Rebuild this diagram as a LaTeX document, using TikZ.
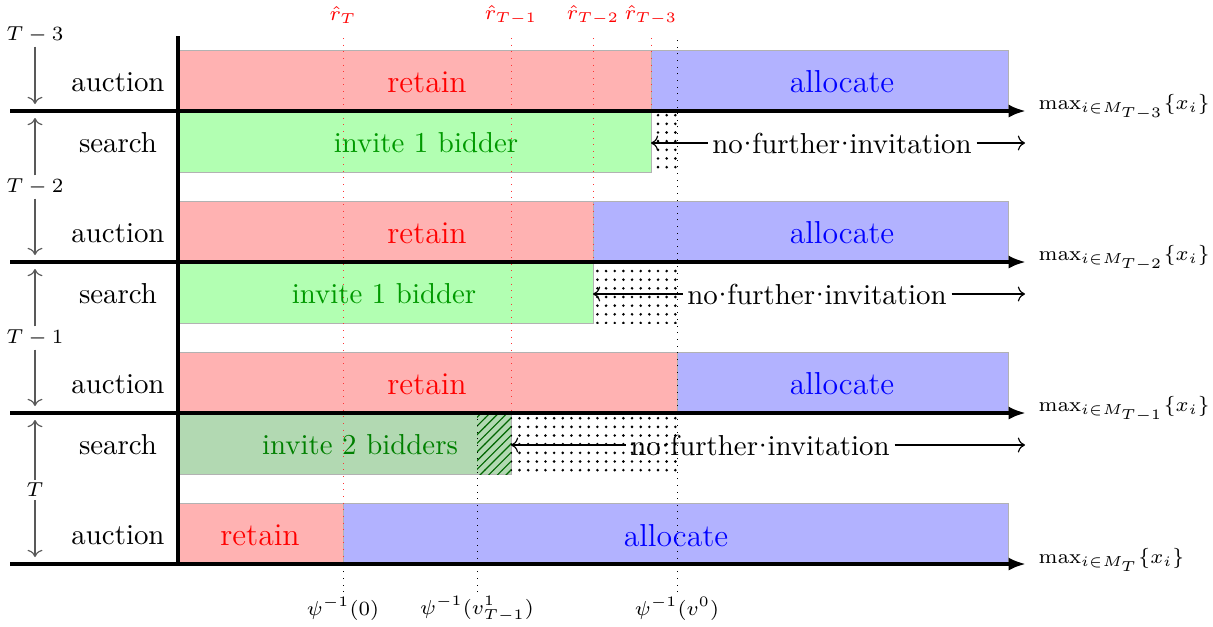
\documentclass[tikz,border=0pt]{standalone}
\usetikzlibrary{patterns,arrows.meta}
\newcommand{\wdot}{\hbox to 0.333em{\hss\textperiodcentered\hss}}
\begin{document}
\begin{tikzpicture}[x=0.3465pt,y=-0.3465pt,
  bar/.style={draw=gray!60,line width=0.3pt},
  retainbar/.style={bar,fill=red!30},
  allocbar/.style={bar,fill=blue!30},
  invitebar/.style={bar,fill=green!30},
  invitetwobar/.style={bar,fill=green!50!black!30},
  dotsbox/.style={pattern=dots},
  axisline/.style={line width=1.3pt,-{Latex[length=6pt,width=4.5pt]}},
  small lab/.style={font=\fontsize{7.2}{8.5}\selectfont},
  psi lab/.style={font=\fontsize{7.2}{8.5}\selectfont,inner sep=0.5pt},
  max lab/.style={font=\fontsize{6.7}{8}\selectfont,inner sep=0pt,anchor=west},
  rlab/.style={font=\fontsize{6.9}{8}\selectfont,text=red},
  big lab/.style={font=\fontsize{11}{13}\selectfont},
  rline/.style={red!80,dotted,line width=0.3pt},
  pline/.style={black,dotted,line width=0.3pt},
  period/.style={gray!70!black,->,line width=0.4pt},
  nfi/.style={inner sep=1.5pt},
  nfiarrow/.style={line width=0.4pt}]
\useasboundingbox (0,0) rectangle (1213,626);

% ---- bars: period T-3 (auction) ----
\path[retainbar] (178,50) rectangle (651,111);
\path[allocbar] (651,50) rectangle (1008,111);
% search T-2
\path[invitebar] (178,111) rectangle (651,172);
\path[dotsbox] (651,111) rectangle (677,172);
% auction T-2
\path[retainbar] (178,201) rectangle (593,262);
\path[allocbar] (593,201) rectangle (1008,262);
% search T-1
\path[invitebar] (178,262) rectangle (593,323);
\path[dotsbox] (593,262) rectangle (677,323);
% auction T-1
\path[retainbar] (178,352) rectangle (677,413);
\path[allocbar] (677,352) rectangle (1008,413);
% search T
\path[invitetwobar] (178,413) rectangle (511,474);
\path[pattern=north east lines,pattern color=green!40!black] (477,413) rectangle (511,474);
\path[dotsbox] (511,413) rectangle (677,474);
% auction T
\path[retainbar] (178,503) rectangle (343,564);
\path[allocbar] (343,503) rectangle (1008,564);

% ---- vertical guide lines ----
\node[rlab] (rT)  at (343,15) {$\hat r_T$};
\node[rlab] (rT1) at (511,15) {$\hat r_{T-1}$};
\node[rlab] (rT2) at (593,15) {$\hat r_{T-2}$};
\node[rlab] (rT3) at (651,15) {$\hat r_{T-3}$};
\coordinate (rTb)  at (343,564);
\coordinate (rT1b) at (511,413);
\coordinate (rT2b) at (593,262);
\coordinate (rT3b) at (651,111);
\draw[rline] (343,38) -- (rTb);
\draw[rline] (511,38) -- (rT1b);
\draw[rline] (593,38) -- (rT2b);
\draw[rline] (651,38) -- (rT3b);

\node[psi lab] (p0) at (343,609) {$\psi^{-1}(0)$};
\node[psi lab] (p1) at (477,609) {$\psi^{-1}(v^1_{T-1})$};
\node[psi lab] (pv) at (677,609) {$\psi^{-1}(v^0)$};
\coordinate (p0t) at (343,564);
\coordinate (p1t) at (477,413);
\coordinate (pvt) at (677,38);
\draw[pline] (343,592) -- (p0t);
\draw[pline] (477,592) -- (p1t);
\draw[pline] (677,592) -- (pvt);

% ---- texts in bars ----
\node[big lab,text=red]  (ret1) at (427,82)  {retain};
\node[big lab,text=blue] (all1) at (842,82)  {allocate};
\node[big lab,text=red]  (ret2) at (427,233) {retain};
\node[big lab,text=blue] (all2) at (842,233) {allocate};
\node[big lab,text=red]  (ret3) at (427,384) {retain};
\node[big lab,text=blue] (all3) at (842,384) {allocate};
\node[big lab,text=red]  (ret4) at (260,535) {retain};
\node[big lab,text=blue] (all4) at (676,536) {allocate};
\node[text=green!60!black] (inv1) at (426,143) {invite 1 bidder};
\node[text=green!60!black] (inv2) at (384,294) {invite 1 bidder};
\node[text=green!50!black] (inv3) at (360,445) {invite 2 bidders};

% ---- no further invitation ----
\node[nfi] (nf1) at (842,143) {no\wdot further\wdot invitation};
\node[nfi] (nf2) at (817,294) {no\wdot further\wdot invitation};
\node[nfi] (nf3) at (760,445) {no\wdot further\wdot invitation};
\coordinate (nf1l) at (651,143); \coordinate (nf1r) at (1025,143);
\coordinate (nf2l) at (593,294); \coordinate (nf2r) at (1025,294);
\coordinate (nf3l) at (511,445); \coordinate (nf3r) at (1025,445);
\draw[nfiarrow,<-] (nf1l) -- (nf1.west);
\draw[nfiarrow,->] (nf1.east) -- (nf1r);
\draw[nfiarrow,<-] (nf2l) -- (nf2.west);
\draw[nfiarrow,->] (nf2.east) -- (nf2r);
\draw[nfiarrow,<-] (nf3l) -- (nf3.west);
\draw[nfiarrow,->] (nf3.east) -- (nf3r);

% ---- axes ----
\coordinate (vtop) at (178,36);
\coordinate (vbot) at (178,564);
\coordinate (a1l) at (10,111); \coordinate (a1r) at (1026,111);
\coordinate (a2l) at (10,262); \coordinate (a2r) at (1026,262);
\coordinate (a3l) at (10,413); \coordinate (a3r) at (1026,413);
\coordinate (a4l) at (10,564); \coordinate (a4r) at (1026,564);
\draw[axisline] (a1l) -- (a1r);
\draw[axisline] (a2l) -- (a2r);
\draw[axisline] (a3l) -- (a3r);
\draw[axisline] (a4l) -- (a4r);
\draw[line width=1.3pt] (vtop) -- (vbot);

\node[max lab] (m1) at (1038,107) {$\max_{i\in M_{T-3}}\{x_i\}$};
\node[max lab] (m2) at (1038,258) {$\max_{i\in M_{T-2}}\{x_i\}$};
\node[max lab] (m3) at (1038,409) {$\max_{i\in M_{T-1}}\{x_i\}$};
\node[max lab] (m4) at (1038,560) {$\max_{i\in M_{T}}\{x_i\}$};

% ---- row labels ----
\node (au1) at (118,82)  {auction};
\node (se1) at (118,143) {search};
\node (au2) at (118,233) {auction};
\node (se2) at (118,294) {search};
\node (au3) at (118,384) {auction};
\node (se3) at (118,445) {search};
\node (au4) at (118,535) {auction};

% ---- period labels ----
\node[small lab,inner sep=1pt] (t3) at (35,35)  {$T-3$};
\node[small lab,inner sep=1pt] (t2) at (35,187) {$T-2$};
\node[small lab,inner sep=1pt] (t1) at (35,338) {$T-1$};
\node[small lab,inner sep=1pt] (t0) at (35,490) {$T$};
\coordinate (t3b) at (35,104);
\coordinate (t2a) at (35,118); \coordinate (t2b) at (35,255);
\coordinate (t1a) at (35,269); \coordinate (t1b) at (35,406);
\coordinate (t0a) at (35,420); \coordinate (t0b) at (35,557);
\draw[period] (t3) -- (t3b);
\draw[period] (t2) -- (t2a);
\draw[period] (t2) -- (t2b);
\draw[period] (t1) -- (t1a);
\draw[period] (t1) -- (t1b);
\draw[period] (t0) -- (t0a);
\draw[period] (t0) -- (t0b);
\end{tikzpicture}
\end{document}
